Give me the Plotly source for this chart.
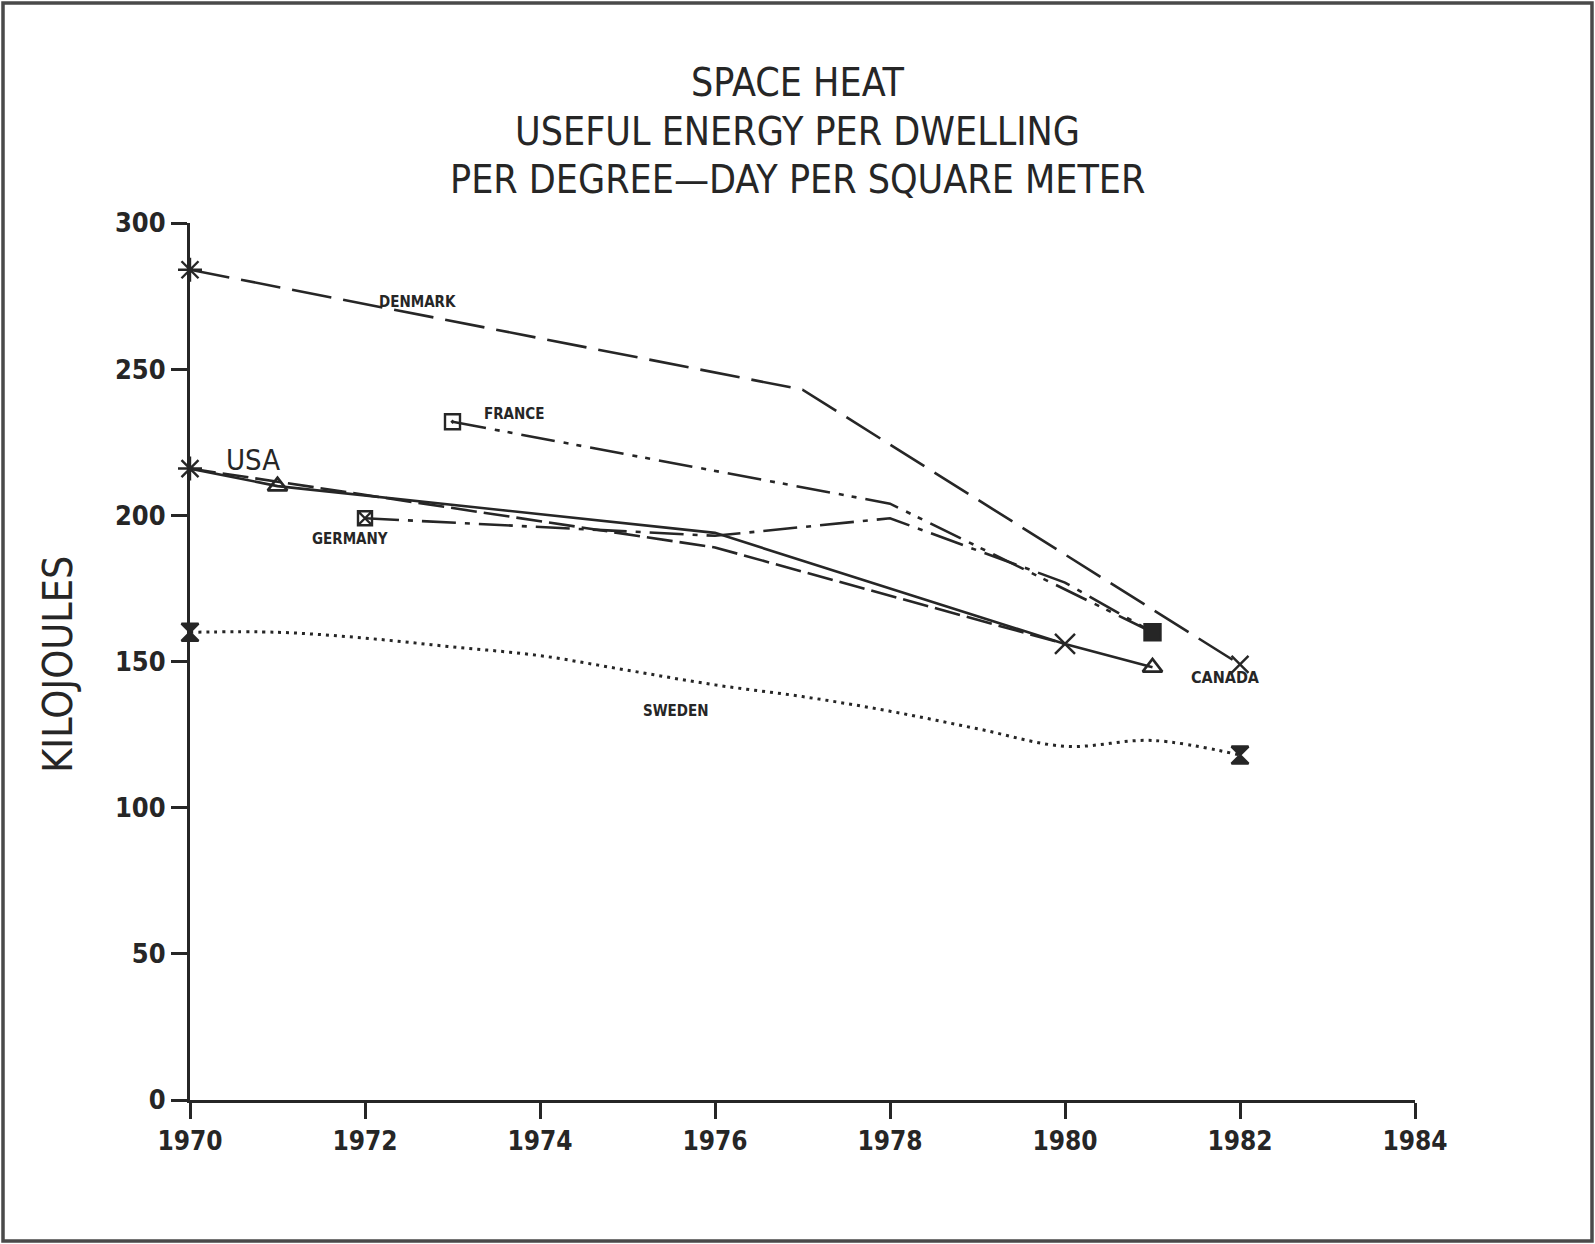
import plotly.graph_objects as go

# ---------------- data ----------------
denmark_years = [1970, 1977, 1982]
denmark_vals = [284, 243, 149]

usa_years = [1970, 1971, 1976, 1980, 1981]
usa_vals = [216, 210, 194, 156, 148]

canada_years = [1970, 1976, 1980]
canada_vals = [216, 189, 156]

germany_years = [1972, 1976, 1978, 1980, 1981]
germany_vals = [199, 193, 199, 177, 160]

france_years = [1973, 1978, 1981]
france_vals = [232, 204, 160]

sweden_years = [1970, 1971, 1972, 1973, 1974, 1975, 1976, 1977, 1978, 1979, 1980, 1981, 1982]
sweden_vals = [160, 160, 158, 155, 152, 147, 142, 138, 133, 127, 121, 123, 118]

x_ticks = [1970, 1972, 1974, 1976, 1978, 1980, 1982, 1984]
y_ticks = [0, 50, 100, 150, 200, 250, 300]

title_lines = ["SPACE HEAT", "USEFUL ENERGY PER DWELLING", "PER DEGREE\u2014DAY PER SQUARE METER"]
y_title = "KILOJOULES"

label_names = ["DENMARK", "FRANCE", "USA", "GERMANY", "CANADA", "SWEDEN"]

# ---------------- style ----------------
INK = "#262626"
FONT = "Liberation Sans Narrow, DejaVu Sans Condensed, Arial Narrow, sans-serif"
LW = 2.6

fig = go.Figure()

def add_line(xs, ys, dash, shape="linear", width=LW):
    fig.add_trace(go.Scatter(x=xs, y=ys, mode="lines", cliponaxis=False,
                             line=dict(color=INK, width=width, dash=dash, shape=shape),
                             hoverinfo="skip", showlegend=False))

def add_marks(xs, ys, idx, symbol, size, lw=2.4):
    fig.add_trace(go.Scatter(x=[xs[i] for i in idx], y=[ys[i] for i in idx], mode="markers",
                             cliponaxis=False,
                             marker=dict(symbol=symbol, size=size, color=INK,
                                         line=dict(color=INK, width=lw)),
                             hoverinfo="skip", showlegend=False))

add_line(denmark_years, denmark_vals, "40px,12px")
add_line(canada_years, canada_vals, "26px,7px")
add_line(usa_years, usa_vals, "solid")
add_line(germany_years, germany_vals, "34px,9px,5px,9px")
add_line(france_years, france_vals, "34px,9px,5px,8px,5px,9px")
add_line(sweden_years, sweden_vals, "3px,5px", shape="spline", width=3)

add_marks(denmark_years, denmark_vals, [0], "asterisk-open", 20)
add_marks(denmark_years, denmark_vals, [2], "x-thin-open", 17)
add_marks(usa_years, usa_vals, [0], "asterisk-open", 20)
add_marks(usa_years, usa_vals, [1, 4], "triangle-up-open", 17, lw=2.6)
add_marks(usa_years, usa_vals, [3], "x-thin-open", 20)
add_marks(germany_years, germany_vals, [0], "square-x-open", 14)
add_marks(germany_years, germany_vals, [4], "square", 16)
add_marks(france_years, france_vals, [0], "square-open-dot", 15)
add_marks(sweden_years, sweden_vals, [0, 12], "hourglass", 17)

# ---------------- labels ----------------
label_pos = {
    "DENMARK": (1972.6, 273, 15, True),
    "FRANCE": (1973.7, 234.5, 15, True),
    "USA": (1970.72, 219, 29, False),
    "GERMANY": (1971.83, 192, 15, True),
    "CANADA": (1981.83, 144.5, 16, True),
    "SWEDEN": (1975.55, 133, 15, True),
}
for name in label_names:
    x, y, s, b = label_pos[name]
    fig.add_annotation(x=x, y=y, xref="x", yref="y", text=f"<b>{name}</b>" if b else name,
                       showarrow=False, font=dict(family=FONT, size=s, color=INK))

for line_text, py in zip(title_lines, [1.1598, 1.1039, 1.0491]):
    fig.add_annotation(x=0.496, y=py, xref="paper", yref="paper", text=line_text,
                       showarrow=False, font=dict(family=FONT, size=39, color=INK),
                       xanchor="center", yanchor="middle")

fig.add_annotation(x=-0.108, y=0.497, xref="paper", yref="paper", text=y_title,
                   textangle=-90, showarrow=False,
                   font=dict(family=FONT, size=41, color=INK),
                   xanchor="center", yanchor="middle")

# page frame
L, R, T, B = 190, 180, 223, 144
W, H = 1595, 1244
pw, ph = W - L - R, H - T - B
fig.add_shape(type="rect", xref="paper", yref="paper",
              x0=(3 - L) / pw, x1=(W - 3 - L) / pw,
              y0=(H - B - (H - 3)) / ph, y1=(H - B - 3) / ph,
              line=dict(color="#4a4a4a", width=3.5))

fig.update_layout(
    width=W, height=H,
    margin=dict(l=L, r=R, t=T, b=B),
    paper_bgcolor="white", plot_bgcolor="white",
    font=dict(family=FONT, color=INK),
    xaxis=dict(range=[1970, 1984], tickvals=x_ticks, ticktext=[f"<b>{v}</b>" for v in x_ticks],
               showgrid=False, zeroline=False, showline=True, linecolor=INK, linewidth=3,
               ticks="outside", ticklen=16, tickwidth=3, tickcolor=INK,
               tickfont=dict(family=FONT, size=26, color=INK)),
    yaxis=dict(range=[0, 300], tickvals=y_ticks, ticktext=[f"<b>{v}</b>" for v in y_ticks],
               showgrid=False, zeroline=False, showline=True, linecolor=INK, linewidth=3,
               ticks="outside", ticklen=16, tickwidth=3, tickcolor=INK,
               tickfont=dict(family=FONT, size=27, color=INK)),
)

fig.write_html("out.html", config={"displayModeBar": False},
               post_script="document.body.style.margin='0px';document.body.style.overflow='hidden';")
